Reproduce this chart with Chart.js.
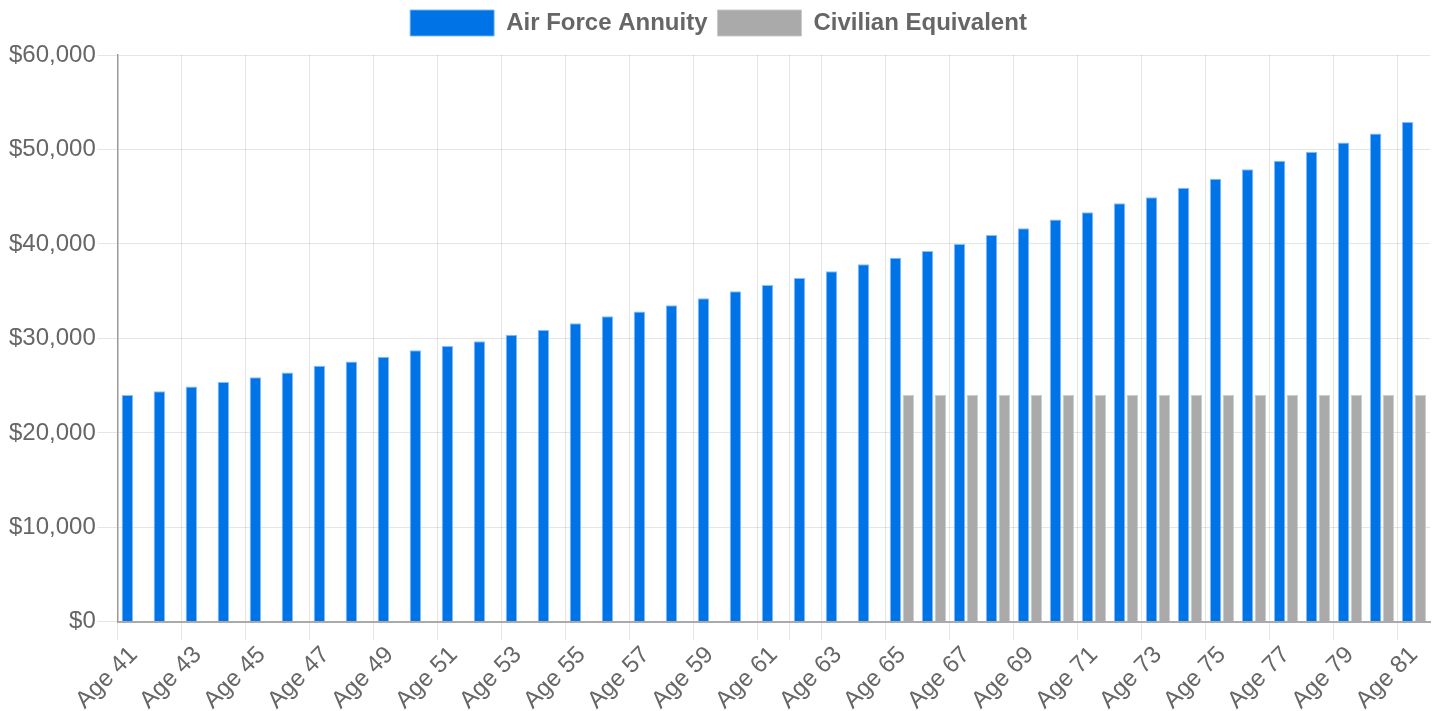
<!DOCTYPE html>
<html>
<head>
<meta charset="utf-8">
<title>Air Force Annuity vs Civilian Equivalent</title>
<script src="https://cdn.jsdelivr.net/npm/chart.js@4"></script>
<style>
    html, body { margin: 0; padding: 0; background: #fff; }
    #wrap { width: 1440px; height: 711px; position: relative; }
</style>
</head>
<body>
<div id="wrap"><canvas id="annuityChart"></canvas></div>
<script>
// Data
const ages = [];
for (let a = 41; a <= 81; a++) ages.push('Age ' + a);

const airForceAnnuity = [
    24000, 24400, 24900, 25400, 25900, 26400, 27100, 27550, 28050, 28750,
    29200, 29700, 30400, 30900, 31600, 32350, 32850, 33500, 34250, 35000,
    35650, 36400, 37100, 37850, 38550, 39250, 40000, 40950, 41650, 42600,
    43350, 44300, 44950, 45950, 46900, 47900, 48800, 49750, 50750, 51700,
    52900
];

const civilianEquivalent = [
    null, null, null, null, null, null, null, null, null, null,
    null, null, null, null, null, null, null, null, null, null,
    null, null, null, null, 24000, 24000, 24000, 24000, 24000, 24000,
    24000, 24000, 24000, 24000, 24000, 24000, 24000, 24000, 24000, 24000,
    24000
];

const yTicks = [0, 10000, 20000, 30000, 40000, 50000, 60000];

const FONT = '"Liberation Sans", Arial, Helvetica, sans-serif';
const GRID = 'rgba(0,0,0,0.1)';

// vertical grid lines only where the reference has them
function xGridColor(ctx) {
    const i = ctx.index;
    if (i >= ages.length) return 'transparent';
    return (i % 2 === 0 || i === 21) ? GRID : 'transparent';
}

const ctx = document.getElementById('annuityChart').getContext('2d');
const chart = new Chart(ctx, {
    type: 'bar',
    data: {
        labels: ages,
        datasets: [{
            label: 'Air Force Annuity',
            data: airForceAnnuity,
            backgroundColor: '#0073e6',
            borderColor: 'rgba(120, 185, 245, 0.9)',
            borderWidth: 1
        }, {
            label: 'Civilian Equivalent',
            data: civilianEquivalent,
            backgroundColor: '#aaaaaa',
            borderColor: 'rgba(200, 200, 200, 0.9)',
            borderWidth: 1
        }]
    },
    options: {
        responsive: true,
        maintainAspectRatio: false,
        animation: false,
        layout: {
            padding: { left: 7, right: 10, top: 0, bottom: 0 }
        },
        plugins: {
            legend: {
                position: 'top',
                labels: {
                    boxWidth: 84,
                    boxHeight: 26,
                    color: '#666',
                    padding: 10,
                    font: { family: FONT, size: 24, weight: 'bold' }
                }
            },
            tooltip: { enabled: false }
        },
        scales: {
            x: {
                afterFit: function(axis) {
                    axis.height -= 5;
                },
                grid: {
                    color: xGridColor,
                    tickColor: xGridColor,
                    tickLength: 18
                },
                border: { color: '#aaa', width: 2 },
                ticks: {
                    autoSkip: false,
                    minRotation: 45,
                    maxRotation: 45,
                    padding: 1,
                    color: '#666',
                    font: { family: FONT, size: 24 },
                    callback: function(value, index) {
                        return index % 2 === 0 ? this.getLabelForValue(value) : '';
                    }
                }
            },
            y: {
                min: 0,
                max: 60000,
                afterBuildTicks: function(axis) {
                    axis.ticks = yTicks.map(v => ({ value: v }));
                },
                grid: {
                    color: GRID,
                    tickLength: 20
                },
                border: { color: '#999', width: 1.5 },
                ticks: {
                    color: '#666',
                    padding: 2,
                    font: { family: FONT, size: 24 },
                    callback: function(value) {
                        return '$' + value.toLocaleString('en-US');
                    }
                }
            }
        }
    },
    plugins: [{
        id: 'legendGap',
        beforeInit: function(chart) {
            const origFit = chart.legend ? chart.legend.fit : null;
            if (!origFit) return;
            chart.legend.fit = function() {
                origFit.bind(chart.legend)();
                this.height += 9;
            };
        }
    }]
});
</script>
</body>
</html>
